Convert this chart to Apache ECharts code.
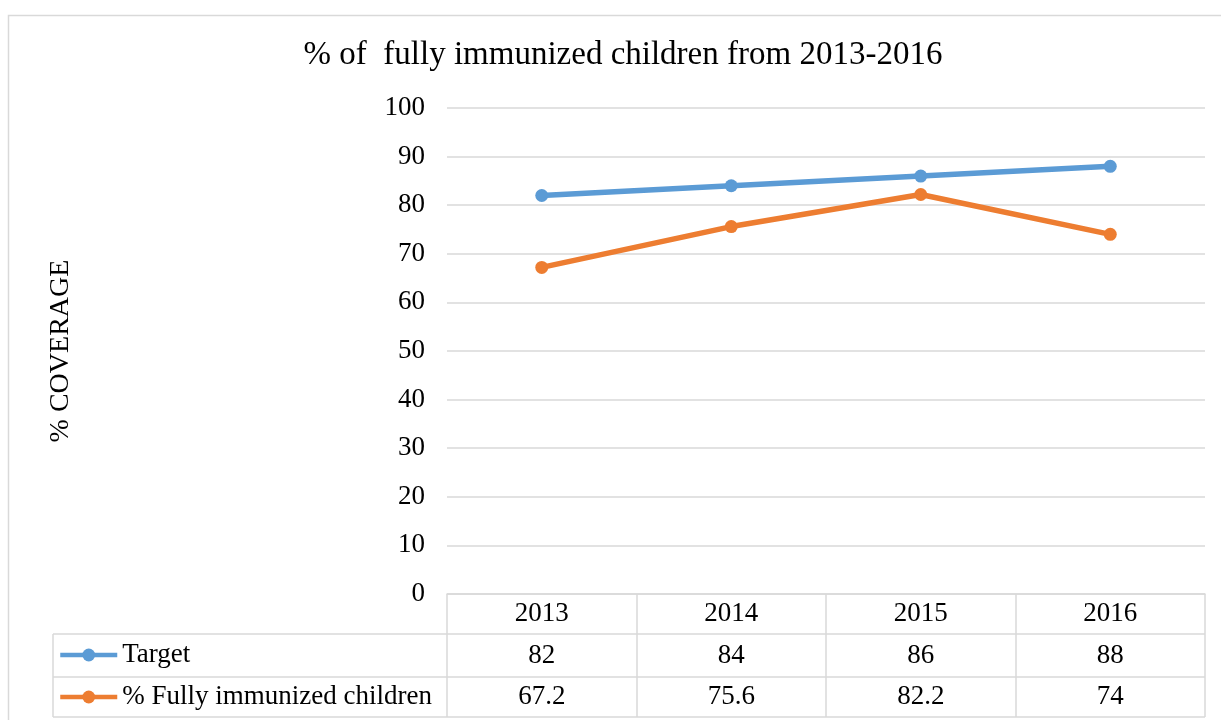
<!DOCTYPE html>
<html>
<head>
<meta charset="utf-8">
<title>% of fully immunized children from 2013-2016</title>
<script src="https://cdn.jsdelivr.net/npm/echarts@6/dist/echarts.min.js"></script>
<style>
  html, body { margin: 0; padding: 0; background: #fff; }
  #chart { width: 1221px; height: 720px; }
</style>
</head>
<body>
<div id="chart"></div>
<script>
// Coverage figures per year
const years = ['2013', '2014', '2015', '2016'];
const targetValues = [82, 84, 86, 88];
const immunizedValues = [67.2, 75.6, 82.2, 74];
const yTicks = [0, 10, 20, 30, 40, 50, 60, 70, 80, 90, 100];

const FONT = 'Liberation Serif';
const TEXT = '#000';
const RULE = '#D9D9D9';
const BLUE = '#5B9BD5';
const ORANGE = '#ED7D31';
const LINE_W = 5.5;
const DOT = 13;

// Layout of the plot and the data table underneath it
const PLOT_LEFT = 447, PLOT_RIGHT = 16, PLOT_TOP = 108, PLOT_BOTTOM = 126;
const TABLE_LEFT = 53;
const ROW_LINES = [634, 677, 717];   // bottoms of header / target / immunized rows

const chart = echarts.init(document.getElementById('chart'), null, { renderer: 'canvas' });

const rowLabel = {
  fontFamily: FONT, fontSize: 27, color: TEXT, verticalAlign: 'middle'
};

function tableXAxis(values, margin) {
  return {
    type: 'category', data: years, gridIndex: 0, position: 'bottom',
    axisLine: { show: false }, axisTick: { show: false },
    axisLabel: Object.assign({}, rowLabel, {
      margin: margin, interval: 0,
      formatter: function (v, i) { return String(values[i]); }
    }),
    splitLine: { show: false }
  };
}

function legendRow(name, top) {
  return {
    data: [name], orient: 'vertical', left: 58, top: top, padding: 0,
    itemWidth: 57, itemHeight: 16,
    lineStyle: { width: 4.5 },
    textStyle: { fontFamily: FONT, fontSize: 27, color: TEXT, lineHeight: 28 }
  };
}

const plotRight = 1221 - PLOT_RIGHT;
const tableLines = ROW_LINES.map(function (y) {
  return { type: 'line', shape: { x1: TABLE_LEFT, y1: y, x2: plotRight, y2: y },
           style: { stroke: RULE, lineWidth: 1.5 }, silent: true };
});
tableLines.push({ type: 'line',
  shape: { x1: TABLE_LEFT, y1: ROW_LINES[0], x2: TABLE_LEFT, y2: ROW_LINES[2] },
  style: { stroke: RULE, lineWidth: 1.5 }, silent: true });

const option = {
  backgroundColor: '#fff',
  animation: false,
  title: {
    text: '% of  fully immunized children from 2013-2016',
    left: 623, top: 39, textAlign: 'center', padding: 0,
    textStyle: { fontFamily: FONT, fontSize: 33, fontWeight: 'normal', color: TEXT }
  },
  legend: [
    legendRow('Target', 641),
    legendRow('% Fully immunized children', 683)
  ],
  grid: { left: PLOT_LEFT, right: PLOT_RIGHT, top: PLOT_TOP, bottom: PLOT_BOTTOM, containLabel: false },
  xAxis: [
    {
      type: 'category', data: years, boundaryGap: true, position: 'bottom',
      axisLine: { show: true, lineStyle: { color: RULE, width: 1.5 } },
      axisTick: { show: true, length: ROW_LINES[2] - (720 - PLOT_BOTTOM), lineStyle: { color: RULE, width: 1.5 } },
      axisLabel: Object.assign({}, rowLabel, { margin: 20, interval: 0 }),
      splitLine: { show: false }
    },
    tableXAxis(targetValues, 61.5),
    tableXAxis(immunizedValues, 103)
  ],
  yAxis: {
    type: 'value', min: yTicks[0], max: yTicks[yTicks.length - 1], interval: 10,
    name: '% COVERAGE', nameLocation: 'middle', nameGap: 372, nameRotate: 90,
    nameTextStyle: { fontFamily: FONT, fontSize: 28, color: TEXT },
    axisLine: { show: false }, axisTick: { show: false },
    axisLabel: { fontFamily: FONT, fontSize: 27, color: TEXT, margin: 22 },
    splitLine: { show: true, lineStyle: { color: RULE, width: 1.5 } }
  },
  series: [
    {
      name: 'Target', type: 'line', data: targetValues,
      symbol: 'circle', symbolSize: DOT,
      lineStyle: { color: BLUE, width: LINE_W },
      itemStyle: { color: BLUE }
    },
    {
      name: '% Fully immunized children', type: 'line', data: immunizedValues,
      symbol: 'circle', symbolSize: DOT,
      lineStyle: { color: ORANGE, width: LINE_W },
      itemStyle: { color: ORANGE }
    }
  ],
  graphic: [
    { type: 'rect', shape: { x: 8.5, y: 15.5, width: 1240, height: 740 },
      style: { fill: null, stroke: RULE, lineWidth: 1.5 }, silent: true }
  ].concat(tableLines)
};

chart.setOption(option);
</script>
</body>
</html>
